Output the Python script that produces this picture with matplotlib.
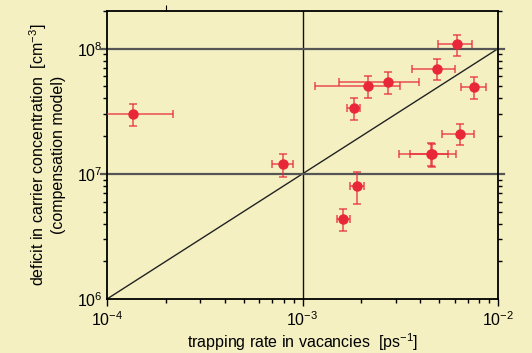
import matplotlib.pyplot as plt
import matplotlib.transforms as mtransforms
import numpy as np

plt.rcParams['font.family'] = ['Liberation Sans', 'DejaVu Sans']
plt.rcParams['mathtext.fontset'] = 'custom'
plt.rcParams['mathtext.rm'] = 'Liberation Sans'
plt.rcParams['mathtext.it'] = 'Liberation Sans'

# trapping rate [ps^-1] and carrier deficit [cm^-3] with errors
rate = [1.36e-4, 7.95e-4, 6.15e-3, 4.85e-3, 2.73e-3, 2.16e-3, 1.83e-3,
        7.57e-3, 6.37e-3, 4.60e-3, 4.55e-3, 1.91e-3, 1.62e-3]
rate_err = [0.82e-4, 1.0e-4, 1.2e-3, 1.2e-3, 1.2e-3, 1.0e-3, 0.15e-3,
            1.1e-3, 1.2e-3, 1.5e-3, 1.0e-3, 0.15e-3, 0.12e-3]
deficit = [3.03e7, 1.19e7, 1.08e8, 6.92e7, 5.43e7, 5.04e7, 3.37e7,
           4.96e7, 2.09e7, 1.43e7, 1.45e7, 8.0e6, 4.37e6]
deficit_err = [0.6e7, 0.24e7, 0.21e8, 1.35e7, 1.05e7, 1.0e7, 0.66e7,
               1.0e7, 0.4e7, 0.3e7, 0.3e7, 2.3e6, 0.86e6]

line_x = [1e-4, 1e-2]
line_y = [1e6, 1e8]

bg = '#f4f0c2'
red = '#e8283a'

fig = plt.figure(figsize=(5.32, 3.53), dpi=100, facecolor=bg)
ax = fig.add_axes([107 / 532, 1 - 299 / 353, 391 / 532, 288 / 353])
ax.set_facecolor(bg)
ax.set_xscale('log')
ax.set_yscale('log')
ax.set_xlim(1e-4, 1e-2)
ax.set_ylim(1e6, 2e8)

# reference lines
ax.plot(line_x, line_y, color='#222222', lw=1.0, zorder=2)
ax.axvline(1e-3, color='#111111', lw=1.0, zorder=2)
trans = mtransforms.blended_transform_factory(ax.transAxes, ax.transData)
for yv in [1e7, 1e8]:
    ax.plot([-0.015, 1.015], [yv, yv], transform=trans, color='#555555',
            lw=1.6, clip_on=False, zorder=2)

ax.errorbar(rate, deficit, xerr=rate_err, yerr=deficit_err, fmt='none',
            ecolor=red, elinewidth=1.2, capsize=3, capthick=1.2, alpha=0.75,
            zorder=3)
ax.plot(rate, deficit, 'o', color=red, ms=6.5, mec=red, zorder=4)

for s in ax.spines.values():
    s.set_color('black')
    s.set_linewidth(1.3)

ax.tick_params(which='major', direction='out', length=5, width=1,
               labelsize=11.5, pad=3)
ax.tick_params(which='minor', direction='out', length=3, width=1,
               right=True)
ax.tick_params(axis='y', which='major', length=0)
ax.set_xticks([1e-4, 1e-3, 1e-2])
ax.set_xticklabels(['10$^{-4}$', '10$^{-3}$', '10$^{-2}$'])
ax.set_yticks([1e6, 1e7, 1e8])
ax.set_yticklabels(['10$^{6}$', '10$^{7}$', '10$^{8}$'])
ax.minorticks_on()
ax.yaxis.set_ticks_position('both')
ax.tick_params(axis='y', which='major', labelleft=True, labelright=False)

top = ax.secondary_xaxis('top')
top.set_xticks([2e-4])
top.set_xticklabels([])
top.tick_params(direction='out', length=4)
top.xaxis.set_minor_locator(plt.NullLocator())
top.spines['top'].set_visible(False)

ax.set_xlabel('trapping rate in vacancies  [ps$^{-1}$]', fontsize=11.5,
              labelpad=2)
ax.set_ylabel('deficit in carrier concentration  [cm$^{-3}$]\n'
              '(compensation model)', fontsize=11.5, labelpad=8,
              linespacing=1.15)

fig.savefig('out.png', dpi=100, facecolor=bg)
